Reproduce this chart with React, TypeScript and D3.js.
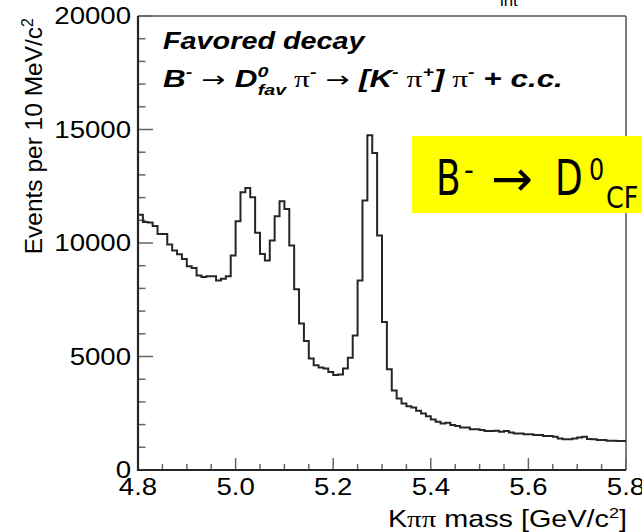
import * as d3 from 'd3';

// K pi pi invariant mass, 10 MeV bins from 4.8 to 5.8 GeV/c^2
const binStart = 4.8;
const binWidth = 0.01;
const counts = [
  11250, 10920, 10900, 10750, 10400, 10400, 9930, 9670, 9500, 9300,
  8980, 8900, 8570, 8500, 8530, 8530, 8350, 8430, 8540, 9450,
  10960, 12240, 12420, 12020, 10450, 9520, 9230, 10110, 11180, 11840,
  11500, 9890, 7960, 6450, 5680, 4910, 4620, 4510, 4470, 4320,
  4180, 4210, 4470, 4950, 5930, 8350, 11870, 14750, 13970, 10330,
  6520, 4440, 3500, 3150, 2930, 2810, 2755, 2610, 2490, 2370,
  2230, 2125, 2050, 2080, 1980, 1935, 1875, 1875, 1790, 1800,
  1760, 1715, 1715, 1730, 1685, 1715, 1655, 1610, 1610, 1570,
  1580, 1540, 1540, 1495, 1495, 1465, 1390, 1350, 1350, 1390,
  1435, 1465, 1365, 1350, 1320, 1320, 1290, 1290, 1275, 1275,
];

const xMajor = [4.8, 5.0, 5.2, 5.4, 5.6, 5.8];
const yMajor = [0, 5000, 10000, 15000, 20000];
const xTitle = 'Kππ mass [GeV/c';
const yTitle = 'Events per 10 MeV/c';

const W = 642;
const H = 532;
const SX = 1.2; // the picture is a bit wider than tall, text too
const sans = 'Liberation Sans, Arial, sans-serif';
const serif = 'Liberation Serif, Times New Roman, serif';
const dejavu = 'DejaVu Sans, sans-serif';
const ink = '#262626';

const x = d3.scaleLinear().domain([4.8, 5.8]).range([138, 626]);
const y = d3.scaleLinear().domain([0, 20000]).range([470, 16]);

// stepped outline of the histogram
const edges = counts.map((c, i) => [binStart + i * binWidth, c] as [number, number]);
edges.push([binStart + counts.length * binWidth, counts[counts.length - 1]]);
const histLine = d3
  .line<[number, number]>()
  .x((d) => x(d[0]))
  .y((d) => y(d[1]))
  .curve(d3.curveStepAfter);

const isMajorX = (v: number) => xMajor.some((m) => Math.abs(m - v) < 1e-6);
const isMajorY = (v: number) => yMajor.includes(v);

// one piece of the decay formula
type Seg = { t: string; shift?: number; size?: number; font?: string; dx?: number };
const decaySegs: Seg[] = [
  { t: 'B' },
  { t: '-', shift: -10, size: 15 },
  { t: ' → ', font: dejavu, size: 22 },
  { t: 'D' },
  { t: '0', shift: -10, size: 15 },
  { t: 'fav', shift: 8, size: 15, dx: -8 },
  { t: ' π', font: serif },
  { t: '-', shift: -10, size: 15 },
  { t: ' → ', font: dejavu, size: 22 },
  { t: '[K' },
  { t: '-', shift: -10, size: 15 },
  { t: ' π', font: serif },
  { t: '+', shift: -10, size: 15 },
  { t: ']' },
  { t: ' π', font: serif },
  { t: '-', shift: -10, size: 15 },
  { t: ' + c.c.' },
];

const Formula = ({ segs }: { segs: Seg[] }) => {
  let prev = 0;
  return (
    <>
      {segs.map((s, i) => {
        const shift = s.shift ?? 0;
        const dy = shift - prev;
        prev = shift;
        return (
          <tspan
            key={i}
            dy={dy}
            dx={s.dx}
            fontSize={s.size}
            fontFamily={s.font}
            fontStyle={s.font ? 'normal' : undefined}
            fontWeight={s.font ? 'normal' : undefined}
          >
            {s.t}
          </tspan>
        );
      })}
    </>
  );
};

const Txt = ({
  x: tx,
  y: ty,
  anchor = 'start',
  size = 23,
  sx = SX,
  children,
  ...rest
}: any) => (
  <text
    transform={`translate(${tx},${ty}) scale(${sx},1)`}
    textAnchor={anchor}
    fontSize={size}
    fontFamily={sans}
    fill="#000"
    {...rest}
  >
    {children}
  </text>
);

export default function App() {
  const xTicks = x.ticks(20);
  const yTicks = y.ticks(20);

  return (
    <svg
      width={W}
      height={H}
      style={{ position: 'absolute', left: 0, top: 0, background: '#fff' }}
    >
      <rect width={W} height={H} fill="#fff" />

      {/* leftover of a label above the picture */}
      <Txt x={500} y={6} size={14}>int</Txt>

      {/* frame */}
      <line x1={138} x2={626} y1={16} y2={16} stroke="#555" strokeWidth={1.5} />
      <line x1={626} x2={626} y1={16} y2={470} stroke="#555" strokeWidth={1.5} />

      {/* ticks */}
      {yTicks.map((v) => (
        <line
          key={'yt' + v}
          x1={138}
          x2={138 + (isMajorY(v) ? 15 : 7.5)}
          y1={y(v)}
          y2={y(v)}
          stroke="#666"
          strokeWidth={1.5}
        />
      ))}
      {xTicks.map((v) => (
        <line
          key={'xt' + v}
          x1={x(v)}
          x2={x(v)}
          y1={470}
          y2={470 - (isMajorX(v) ? 12 : 6)}
          stroke="#666"
          strokeWidth={1.5}
        />
      ))}

      {/* histogram */}
      <path d={histLine(edges) ?? ''} fill="none" stroke={ink} strokeWidth={2} />

      {/* axes */}
      <line x1={138} x2={138} y1={16} y2={471} stroke={ink} strokeWidth={2.2} />
      <line x1={137} x2={626} y1={470} y2={470} stroke={ink} strokeWidth={2.2} />

      {/* tick labels */}
      {yMajor.map((v) => (
        <Txt key={'yl' + v} x={131} y={y(v) + 8} anchor="end">
          {v}
        </Txt>
      ))}
      {xMajor.map((v) => (
        <Txt key={'xl' + v} x={x(v)} y={495} anchor="middle">
          {v.toFixed(1)}
        </Txt>
      ))}

      {/* axis titles */}
      <Txt x={627} y={527} anchor="end" size={24}>
        <tspan>K</tspan>
        <tspan fontFamily={serif}>ππ</tspan>
        <tspan>{xTitle.slice(3)}</tspan>
        <tspan dy={-9} fontSize={15}>2</tspan>
        <tspan dy={9}>]</tspan>
      </Txt>
      <text
        transform="translate(42,18) rotate(-90)"
        textAnchor="end"
        fontSize={24.5}
        fontFamily={sans}
        fill="#000"
      >
        {yTitle}
        <tspan dy={-9} fontSize={16}>2</tspan>
      </text>

      {/* in-plot captions */}
      <Txt x={163} y={49} size={24} fontWeight="bold" fontStyle="italic">
        Favored decay
      </Txt>
      <Txt x={163} y={87} size={24} sx={1.31} fontWeight="bold" fontStyle="italic">
        <Formula segs={decaySegs} />
      </Txt>

      {/* yellow note */}
      <rect x={412} y={136} width={240} height={77} fill="#ffff00" />
      <Txt x={436} y={195} size={50} sx={0.72} fontFamily={dejavu}>B</Txt>
      <Txt x={464} y={180} size={30} sx={0.9} fontFamily={dejavu}>-</Txt>
      <Txt x={491} y={196} size={50} sx={1} fontFamily={dejavu}>→</Txt>
      <Txt x={555} y={195} size={50} sx={0.72} fontFamily={dejavu}>D</Txt>
      <Txt x={589} y={180} size={30} sx={0.8} fontFamily={dejavu}>0</Txt>
      <Txt x={606} y={208} size={30} sx={0.85} fontFamily={dejavu}>CF</Txt>
    </svg>
  );
}
